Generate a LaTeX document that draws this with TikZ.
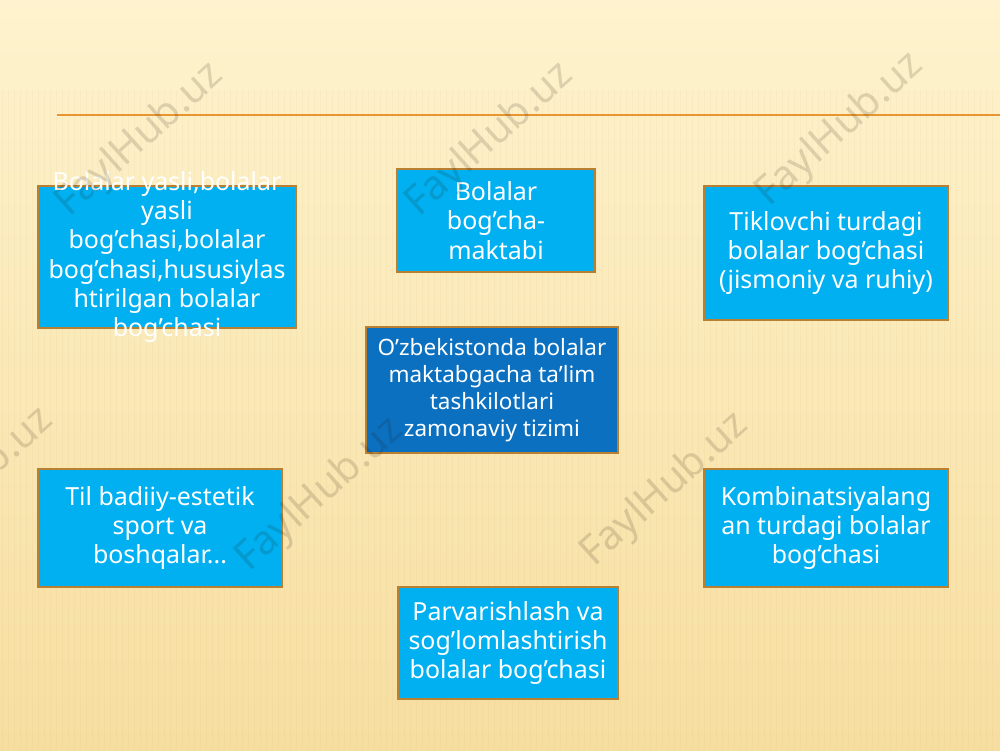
\documentclass[tikz,border=0pt]{standalone}
\usepackage{fontspec}
\setmainfont{Noto Sans}
\usepackage{xcolor}
\usepackage{tikz}
\usetikzlibrary{positioning}
\definecolor{boxblue}{RGB}{0,176,240}
\definecolor{centerblue}{RGB}{11,112,192}
\definecolor{boxedge}{RGB}{184,128,48}
\definecolor{lineorange}{RGB}{232,150,50}
\definecolor{bgtop}{RGB}{254,243,206}
\definecolor{bgbottom}{RGB}{246,222,160}
\tikzset{
  box/.style={draw=boxedge, line width=1.2pt, rectangle, fill=boxblue, inner sep=0pt},
  boxtext/.style={text=white, align=center, inner sep=0pt, font=\fontsize{14.2}{16.7}\selectfont},
  centerbox/.style={box, fill=centerblue, text=white, align=center, font=\fontsize{12.8}{15.3}\selectfont},
  watermark/.style={rotate=42, text=black!80!brown, opacity=0.15, font=\fontsize{23}{26}\selectfont\bfseries}
}

\begin{document}
\begin{tikzpicture}

% The background
\shade[top color=bgtop, bottom color=bgbottom] (0,0) rectangle (20,15);
\foreach \i in {0,...,165}
  \draw[brown, opacity=0.05, line width=0.8pt] (\i*0.12+0.05,0) -- (\i*0.12+0.05,13.2);
\useasboundingbox (0,0) rectangle (20,15);

% The title line
\coordinate (lineL) at (1.14,12.7);
\coordinate (lineR) at (20,12.7);
\draw[lineorange, line width=1.3pt] (lineL) -- (lineR);

% The boxes
\node[box, minimum width=5.16cm, minimum height=2.84cm] (yasli) at (3.34,9.86) {};
\node[boxtext] (yaslitext) at (yasli) {Bolalar yasli,bolalar\\yasli\\bog’chasi,bolalar\\bog’chasi,hususiylas\\htirilgan bolalar\\bog’chasi};
\node[box, boxtext, minimum width=3.96cm, minimum height=2.06cm] (maktab) at (9.92,10.59) {Bolalar\\bog’cha-\\maktabi};
\node[box, boxtext, minimum width=4.88cm, minimum height=2.68cm] (tiklovchi) at (16.52,9.94) {Tiklovchi turdagi\\bolalar bog’chasi\\(jismoniy va ruhiy)};

\node[centerbox, minimum width=5.04cm, minimum height=2.52cm] (tizim) at (9.84,7.2) {O’zbekistonda bolalar\\maktabgacha ta’lim\\tashkilotlari\\zamonaviy tizimi};

\node[box, boxtext, minimum width=4.88cm, minimum height=2.36cm] (badiiy) at (3.2,4.44) {Til badiiy-estetik\\sport va\\boshqalar...};
\node[box, boxtext, minimum width=4.88cm, minimum height=2.36cm] (kombin) at (16.52,4.44) {Kombinatsiyalang\\an turdagi bolalar\\bog’chasi};
\node[box, boxtext, minimum width=4.4cm, minimum height=2.24cm] (parvarish) at (10.16,2.14) {Parvarishlash va\\sog’lomlashtirish\\bolalar bog’chasi};

% The watermarks
\node[watermark] (wm1) at (2.8,12.2) {FaylHub.uz};
\node[watermark] (wm2) at (9.8,12.2) {FaylHub.uz};
\node[watermark] (wm3) at (16.8,12.4) {FaylHub.uz};
\node[watermark] (wm4) at (-0.6,5.3) {FaylHub.uz};
\node[watermark] (wm5) at (6.4,5.1) {FaylHub.uz};
\node[watermark] (wm6) at (13.3,5.2) {FaylHub.uz};

\end{tikzpicture}
\end{document}
